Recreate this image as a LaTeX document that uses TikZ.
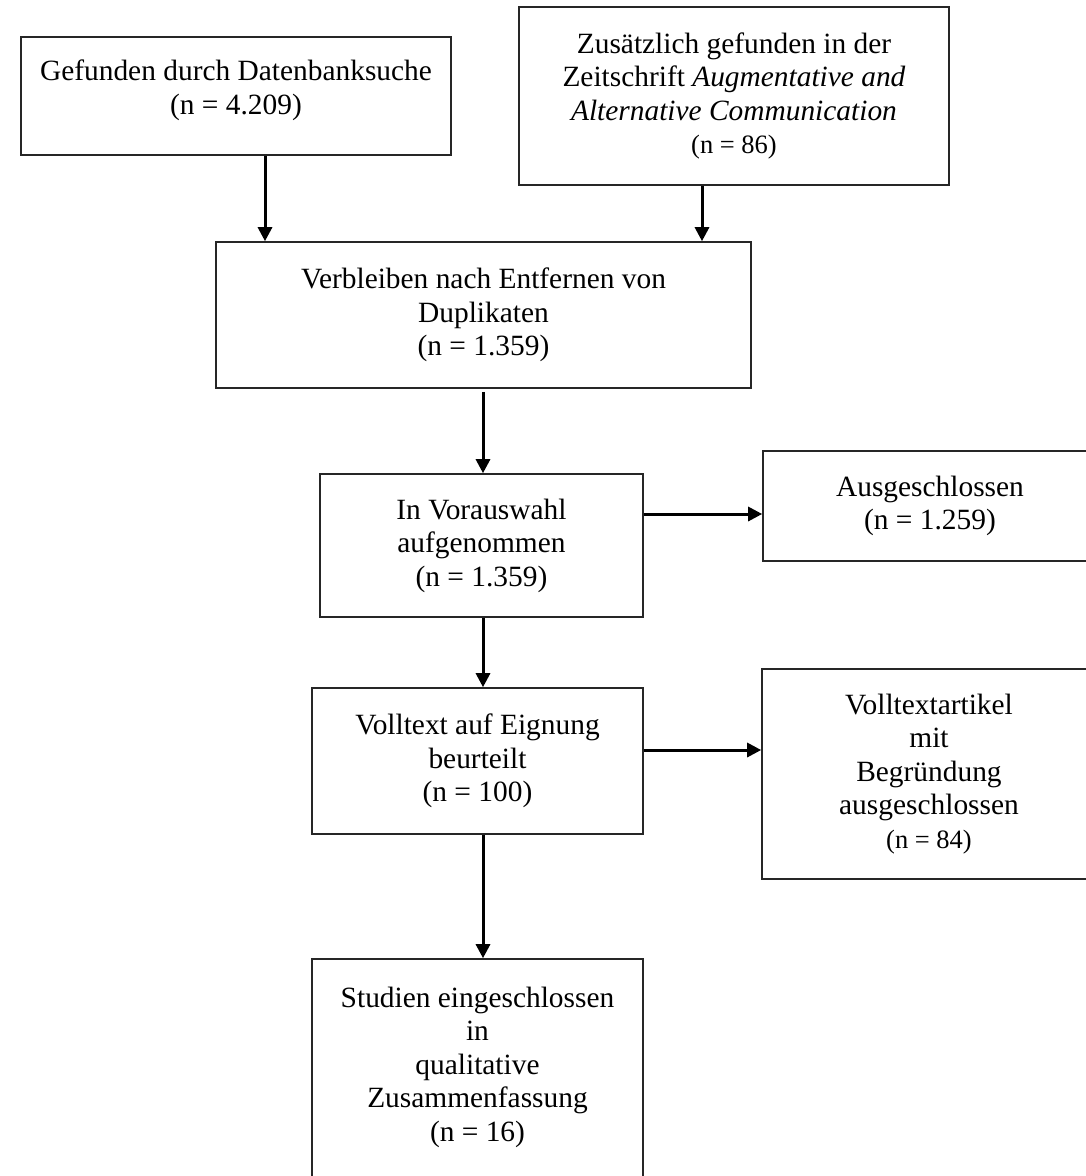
\documentclass[tikz,border=0pt]{standalone}
\usepackage{fontspec}
\setmainfont{Liberation Serif}
\usetikzlibrary{arrows.meta}
\tikzset{
  box/.style={draw=black!85, line width=1.6pt, rectangle, inner sep=0pt, align=center,
    font=\fontsize{29.4}{33.5}\selectfont},
  txt/.style={inner sep=0pt, align=center, font=\fontsize{29.4}{33.5}\selectfont},
  arr/.style={line width=3pt, -{Triangle[length=14pt,width=14pt]}},
}
\newcommand{\smalln}[1]{{\fontsize{26.5}{33}\selectfont #1}}
\begin{document}
\begin{tikzpicture}[x=1pt,y=-1pt]
\useasboundingbox (0,0) rectangle (1086,1176);
\clip (0,0) rectangle (1086,1176);
\fill[white] (0,0) rectangle (1086,1176);
\node[box, minimum width=430pt, minimum height=118pt] (A) at (236,96)
  {Gefunden durch Datenbanksuche\\(n = 4.209)\rule[-18pt]{0pt}{1pt}};
\node[box, minimum width=430pt, minimum height=178pt] (B) at (734,96)
  {Zusätzlich gefunden in der\\Zeitschrift \textit{Augmentative and}\\\textit{Alternative Communication}\\\smalln{(n = 86)}};
\node[box, minimum width=535pt, minimum height=146pt] (C) at (483.5,315)
  {Verbleiben nach Entfernen von\\Duplikaten\\(n = 1.359)};
\node[box, minimum width=323pt, minimum height=143pt] (D) at (481.5,545.5)
  {In Vorauswahl\\aufgenommen\\(n = 1.359)};
\node[box, minimum width=334pt, minimum height=110pt] (E) at (930,506)
  {Ausgeschlossen\\(n = 1.259)};
\node[box, minimum width=331pt, minimum height=146pt] (F) at (477.5,761)
  {Volltext auf Eignung\\beurteilt\\(n = 100)};
\node[box, minimum width=334pt, minimum height=210pt] (G) at (929,774)
  {Volltextartikel\\mit\\Begründung\\ausgeschlossen\\\smalln{(n = 84)}};
\node[box, minimum width=331pt, minimum height=260pt] (H) at (477.5,1089) {};
\node[txt] (Ht) at (477.5,1067)
  {Studien eingeschlossen\\in\\qualitative\\Zusammenfassung\\(n = 16)};
\draw[arr] (A.south -| 265,0) -- (C.north -| 265,0);
\draw[arr] (B.south -| 702,0) -- (C.north -| 702,0);
\draw[arr] ([yshift=-3pt]C.south -| 483,0) -- (D.north -| 483,0);
\draw[arr] (D.east |- 0,514) -- (E.west |- 0,514);
\draw[arr] (D.south -| 483,0) -- (F.north -| 483,0);
\draw[arr] (F.east |- 0,750) -- (G.west |- 0,750);
\draw[arr] (F.south -| 483,0) -- (H.north -| 483,0);
\end{tikzpicture}
\end{document}
